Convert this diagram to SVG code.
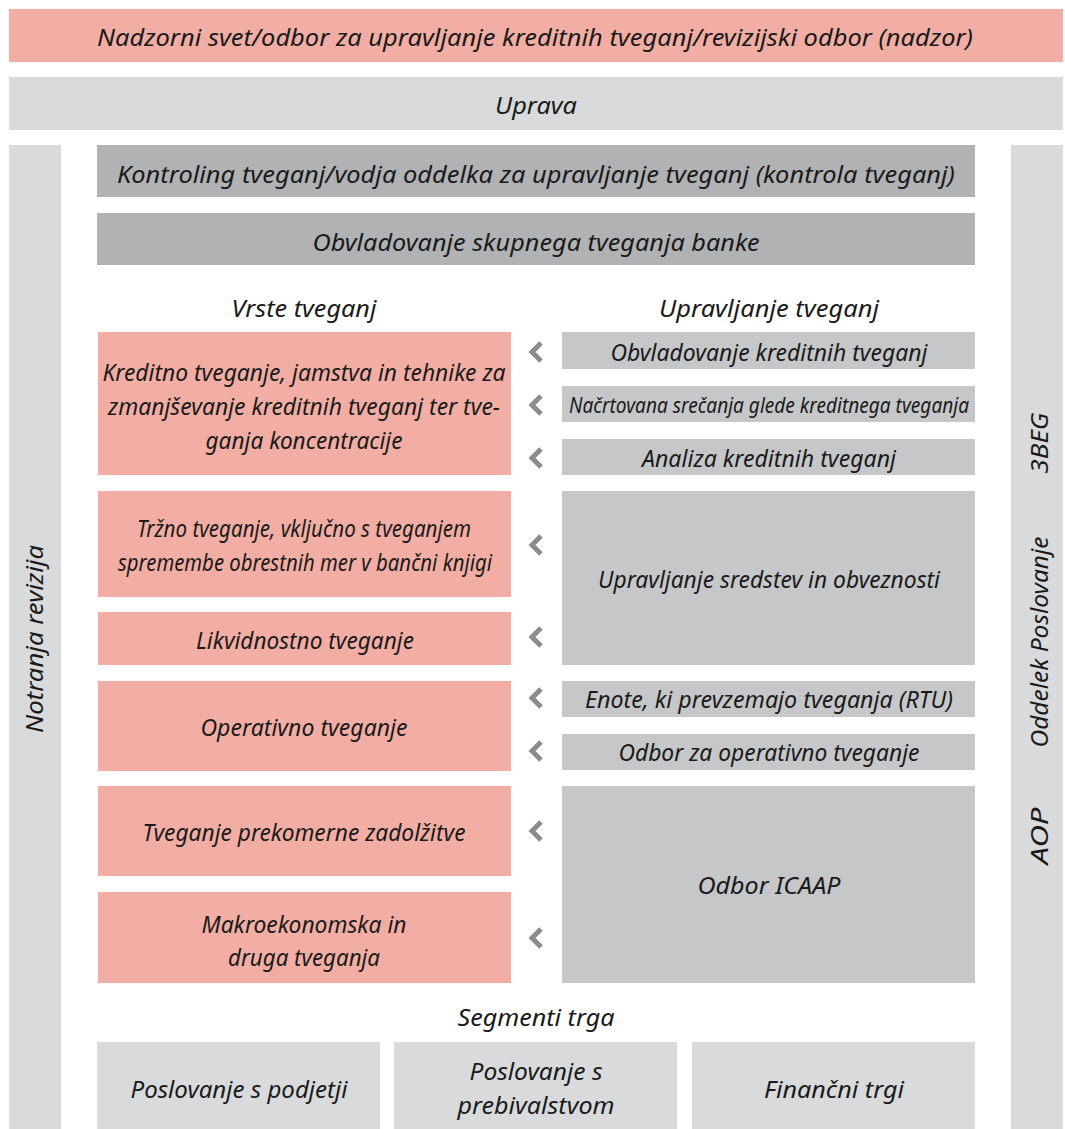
<svg xmlns="http://www.w3.org/2000/svg" width="1065" height="1129" viewBox="0 0 1065 1129">
<style>
.pink{fill:#F2AEA4}
.lg{fill:#D9DADC}
.dg{fill:#B1B2B4}
.mg{fill:#C6C7C9}
text{font-family:"Noto Sans","Open Sans",sans-serif;font-style:italic;font-size:24px;fill:#1a1a1a;text-anchor:middle}
.sm{font-size:21px}
.chev{fill:none;stroke:#8C8C8C;stroke-width:5;stroke-linejoin:miter}
</style>
<defs>
<polyline id="chev" class="chev" points="8,-9 -1,0 8,9"/>
</defs>
<rect width="1065" height="1129" fill="#ffffff"/>
<g id="nadzorni"><rect class="pink" x="9" y="9" width="1054" height="53"/><text x="535" y="46" textLength="876" lengthAdjust="spacingAndGlyphs">Nadzorni svet/odbor za upravljanje kreditnih tveganj/revizijski odbor (nadzor)</text></g>
<g id="uprava"><rect class="lg" x="9" y="77" width="1054" height="53"/><text x="536" y="114" textLength="82" lengthAdjust="spacingAndGlyphs">Uprava</text></g>
<g id="notranja"><rect class="lg" x="9" y="145" width="52" height="984"/><text transform="translate(43,639) rotate(-90)" textLength="188" lengthAdjust="spacingAndGlyphs">Notranja revizija</text></g>
<g id="desno"><rect class="lg" x="1011" y="145" width="52" height="984"/>
<text transform="translate(1048,443) rotate(-90)" textLength="61" lengthAdjust="spacingAndGlyphs">3BEG</text>
<text transform="translate(1048,642) rotate(-90)" textLength="211" lengthAdjust="spacingAndGlyphs">Oddelek Poslovanje</text>
<text transform="translate(1048,836) rotate(-90)" textLength="57" lengthAdjust="spacingAndGlyphs">AOP</text></g>
<g id="kontroling"><rect class="dg" x="97" y="145" width="878" height="52"/><text x="536" y="183" textLength="838" lengthAdjust="spacingAndGlyphs">Kontroling tveganj/vodja oddelka za upravljanje tveganj (kontrola tveganj)</text></g>
<g id="obvladovanje-skupnega"><rect class="dg" x="97" y="213" width="878" height="52"/><text x="536" y="251" textLength="447" lengthAdjust="spacingAndGlyphs">Obvladovanje skupnega tveganja banke</text></g>
<g id="vrste"><text x="304" y="317" textLength="145" lengthAdjust="spacingAndGlyphs">Vrste tveganj</text></g>
<g id="upravljanje"><text x="769" y="317" textLength="220" lengthAdjust="spacingAndGlyphs">Upravljanje tveganj</text></g>
<g id="kreditno"><rect class="pink" x="98" y="332" width="413" height="143"/>
<text x="304" y="381" textLength="403" lengthAdjust="spacingAndGlyphs">Kreditno tveganje, jamstva in tehnike za</text>
<text x="304" y="415" textLength="392" lengthAdjust="spacingAndGlyphs">zmanjševanje kreditnih tveganj ter tve-</text>
<text x="304" y="449" textLength="197" lengthAdjust="spacingAndGlyphs">ganja koncentracije</text></g>
<g id="trzno"><rect class="pink" x="98" y="491" width="413" height="106"/>
<text x="304" y="537" textLength="334" lengthAdjust="spacingAndGlyphs">Tržno tveganje, vključno s tveganjem</text>
<text x="305" y="571" textLength="374" lengthAdjust="spacingAndGlyphs">spremembe obrestnih mer v bančni knjigi</text></g>
<g id="likvidnostno"><rect class="pink" x="98" y="612" width="413" height="53"/><text x="305" y="649" textLength="218" lengthAdjust="spacingAndGlyphs">Likvidnostno tveganje</text></g>
<g id="operativno"><rect class="pink" x="98" y="681" width="413" height="90"/><text x="304" y="736" textLength="207" lengthAdjust="spacingAndGlyphs">Operativno tveganje</text></g>
<g id="prekomerne"><rect class="pink" x="98" y="786" width="413" height="90"/><text x="304" y="841" textLength="323" lengthAdjust="spacingAndGlyphs">Tveganje prekomerne zadolžitve</text></g>
<g id="makro"><rect class="pink" x="98" y="892" width="413" height="91"/>
<text x="304" y="933" textLength="205" lengthAdjust="spacingAndGlyphs">Makroekonomska in</text>
<text x="304" y="966" textLength="152" lengthAdjust="spacingAndGlyphs">druga tveganja</text></g>
<g id="obvl-kred"><rect class="mg" x="562" y="332" width="413" height="37"/><text x="769" y="361" textLength="317" lengthAdjust="spacingAndGlyphs">Obvladovanje kreditnih tveganj</text></g>
<g id="nacrtovana"><rect class="mg" x="562" y="386" width="413" height="36"/><text class="sm" x="769" y="413" textLength="400" lengthAdjust="spacingAndGlyphs">Načrtovana srečanja glede kreditnega tveganja</text></g>
<g id="analiza"><rect class="mg" x="562" y="439" width="413" height="36"/><text x="769" y="467" textLength="254" lengthAdjust="spacingAndGlyphs">Analiza kreditnih tveganj</text></g>
<g id="sredstev"><rect class="mg" x="562" y="491" width="413" height="174"/><text x="769" y="588" textLength="342" lengthAdjust="spacingAndGlyphs">Upravljanje sredstev in obveznosti</text></g>
<g id="enote"><rect class="mg" x="562" y="681" width="413" height="36"/><text x="769" y="708" textLength="368" lengthAdjust="spacingAndGlyphs">Enote, ki prevzemajo tveganja (RTU)</text></g>
<g id="odbor-op"><rect class="mg" x="562" y="734" width="413" height="36"/><text x="769" y="761" textLength="301" lengthAdjust="spacingAndGlyphs">Odbor za operativno tveganje</text></g>
<g id="icaap"><rect class="mg" x="562" y="786" width="413" height="197"/><text x="769" y="894" textLength="143" lengthAdjust="spacingAndGlyphs">Odbor ICAAP</text></g>
<g id="segmenti"><text x="536" y="1026" textLength="157" lengthAdjust="spacingAndGlyphs">Segmenti trga</text></g>
<g id="podjetji"><rect class="lg" x="97" y="1042" width="283" height="87"/><text x="239" y="1098" textLength="217" lengthAdjust="spacingAndGlyphs">Poslovanje s podjetji</text></g>
<g id="prebivalstvo"><rect class="lg" x="394" y="1042" width="283" height="87"/>
<text x="536" y="1080" textLength="133" lengthAdjust="spacingAndGlyphs">Poslovanje s</text>
<text x="536" y="1114" textLength="157" lengthAdjust="spacingAndGlyphs">prebivalstvom</text></g>
<g id="financni"><rect class="lg" x="692" y="1042" width="283" height="87"/><text x="834" y="1098" textLength="140" lengthAdjust="spacingAndGlyphs">Finančni trgi</text></g>
<g id="connectors">
<use href="#chev" x="533" y="352"/>
<use href="#chev" x="533" y="405"/>
<use href="#chev" x="533" y="458"/>
<use href="#chev" x="533" y="545"/>
<use href="#chev" x="533" y="637"/>
<use href="#chev" x="533" y="698"/>
<use href="#chev" x="533" y="751"/>
<use href="#chev" x="533" y="831"/>
<use href="#chev" x="533" y="938"/>
</g>
</svg>
